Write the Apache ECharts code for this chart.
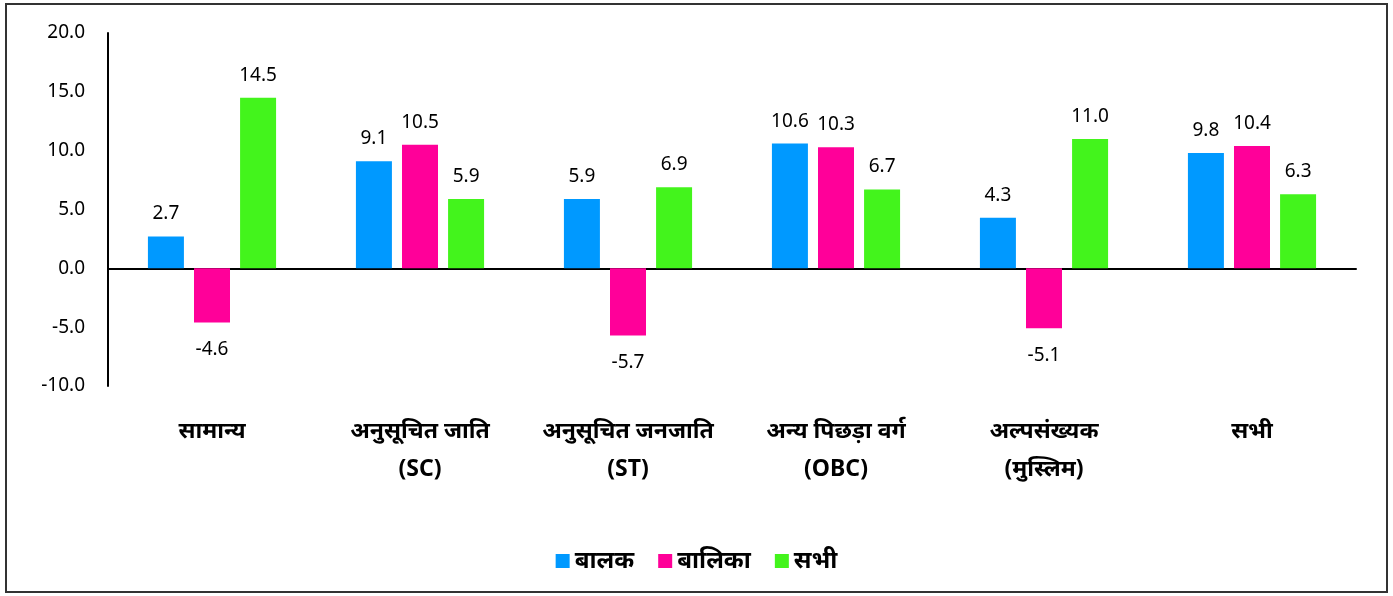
<!DOCTYPE html>
<html><head><meta charset="utf-8">
<script src="https://cdn.jsdelivr.net/npm/echarts@6/dist/echarts.min.js"></script>
<style>html,body{margin:0;padding:0;background:#fff}#c{width:1393px;height:596px}</style>
</head><body><div id="c"></div>
<script>
const categories = ['सामान्य', 'अनुसूचित जाति\n(SC)', 'अनुसूचित जनजाति\n(ST)', 'अन्य पिछड़ा वर्ग\n(OBC)', 'अल्पसंख्यक\n(मुस्लिम)', 'सभी'];
const seriesNames = ['बालक', 'बालिका', 'सभी'];
const boys = [2.7, 9.1, 5.9, 10.6, 4.3, 9.8];
const girls = [-4.6, 10.5, -5.7, 10.3, -5.1, 10.4];
const all = [14.5, 5.9, 6.9, 6.7, 11.0, 6.3];
const yTicks = [-10, -5, 0, 5, 10, 15, 20];
const colors = ['#0099FF', '#FF0099', '#43F41C'];

const font = '"Noto Sans", "Noto Sans Devanagari", sans-serif';
function mk(vals, i) {
  return {
    name: seriesNames[i], type: 'bar', xAxisIndex: 0,
    barWidth: 36, barGap: '28%',
    itemStyle: { color: colors[i] },
    data: vals.map(v => ({ value: v, label: v < 0 ? { position: 'bottom', distance: 18 } : { position: 'top', distance: 13 } })),
    label: { show: true, fontSize: 19, color: '#000', fontFamily: font,
      formatter: p => p.value.toFixed(1) }
  };
}
const chart = echarts.init(document.getElementById('c'));
chart.setOption({
  animation: false,
  textStyle: { fontFamily: font },
  graphic: [{ type: 'rect', shape: { x: 6, y: 4, width: 1381, height: 588 },
    style: { fill: 'none', stroke: '#333', lineWidth: 2 }, z: 100 }],
  grid: { left: 108, right: 37, top: 33, bottom: 210 },
  legend: { bottom: 18, left: 'center', itemWidth: 14, itemHeight: 14, itemGap: 24,
    icon: 'rect', data: seriesNames,
    textStyle: { fontSize: 24, fontWeight: 'bold', color: '#000', fontFamily: font } },
  xAxis: [
    { type: 'category', data: categories, axisLine: { onZero: true, lineStyle: { color: '#000', width: 2 } },
      axisTick: { show: false }, axisLabel: { show: false } },
    { type: 'category', data: categories, position: 'bottom', axisLine: { show: false, onZero: false },
      axisTick: { show: false },
      axisLabel: { margin: 26, fontSize: 23, fontWeight: 'bold', color: '#000', lineHeight: 38, fontFamily: font, interval: 0 } }
  ],
  yAxis: { type: 'value', min: yTicks[0], max: yTicks[yTicks.length - 1], interval: 5,
    axisLine: { show: true, lineStyle: { color: '#000', width: 2 } },
    axisTick: { show: false }, splitLine: { show: false },
    axisLabel: { margin: 23, fontSize: 19, color: '#000', formatter: v => v.toFixed(1) } },
  series: [mk(boys, 0), mk(girls, 1), mk(all, 2)]
});
</script></body></html>
